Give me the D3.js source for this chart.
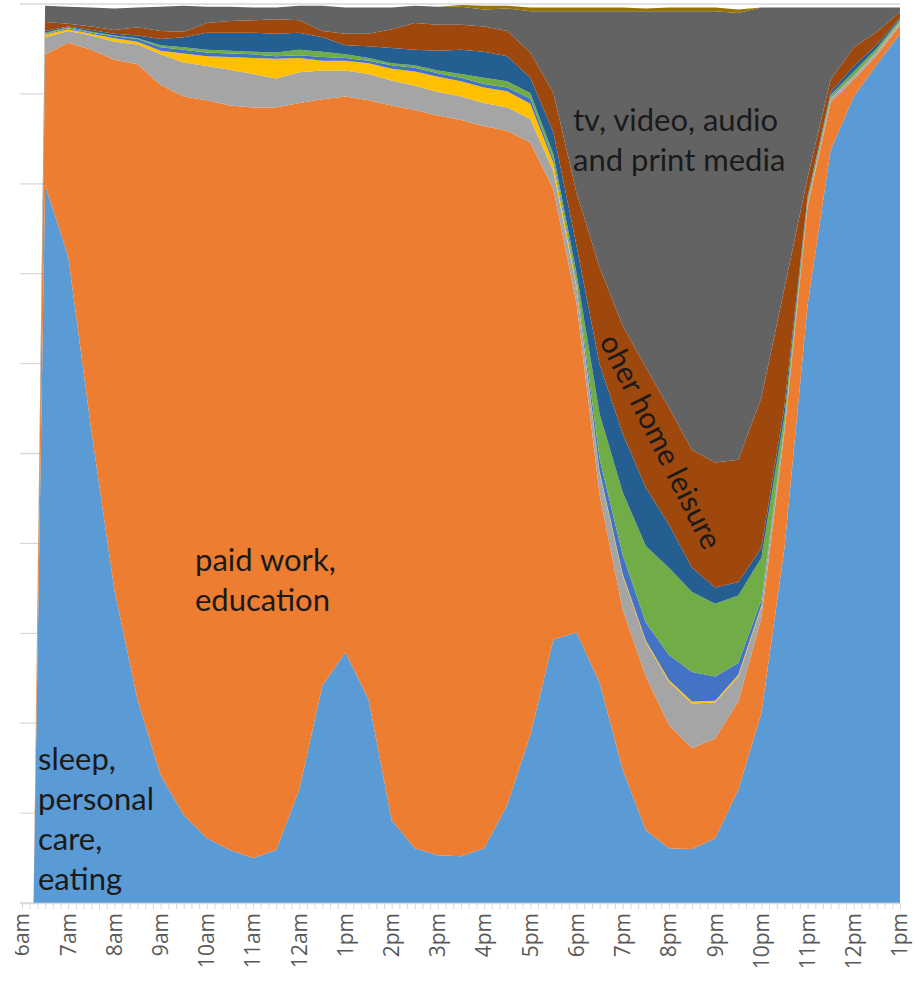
<!DOCTYPE html>
<html>
<head>
<meta charset="utf-8">
<script src="https://cdn.jsdelivr.net/npm/d3@7"></script>
<style>
  body { margin: 0; background: #fff; }
  svg { display: block; }
</style>
</head>
<body>
<svg id="chart"></svg>
<script>
// time of day in hours (25 = 1am next day), first point has nothing recorded yet
var hours = [6.25, 6.5, 7, 7.5, 8, 8.5, 9, 9.5, 10, 10.5, 11, 11.5, 12, 12.5, 13, 13.5, 14, 14.5, 15, 15.5,
             16, 16.5, 17, 17.5, 18, 18.5, 19, 19.5, 20, 20.5, 21, 21.5, 22, 22.5, 23, 23.5, 24, 24.5, 25];

// share of people (%) in each activity, stacked bottom to top
var sleepCare = [0, 79.9, 71.9, 52.6, 34.8, 22.6, 14.2, 9.8, 7.2, 5.9, 5.0, 5.9, 12.6, 24.2, 27.9, 22.6, 9.2, 6.1, 5.3, 5.2,
                 6.1, 10.9, 18.7, 29.3, 30.1, 24.5, 14.8, 8.1, 6.1, 6.0, 7.2, 12.6, 21.1, 39.5, 66.5, 83.8, 89.7, 93.3, 96.7];
var paidWork = [0, 14.5, 23.8, 42.3, 59.0, 70.7, 76.8, 79.9, 82.1, 82.8, 83.5, 82.6, 76.4, 65.2, 61.8, 66.7, 79.5, 82.1, 82.3, 81.9,
                80.3, 75.0, 65.9, 50.1, 36.6, 20.9, 17.8, 17.1, 13.7, 11.2, 11.1, 9.8, 10.6, 12.9, 11.0, 5.3, 1.9, 1.0, 0.9];
var greyBand = [0, 1.9, 1.3, 1.6, 2.0, 2.2, 3.4, 3.8, 3.8, 4.0, 3.7, 3.2, 3.4, 3.2, 2.9, 2.9, 2.8, 2.7, 2.6, 2.6,
                2.6, 2.6, 2.6, 2.0, 1.8, 2.4, 3.8, 3.8, 4.8, 5.0, 4.0, 2.8, 1.2, 0.4, 0.3, 0.3, 0.3, 0.3, 0.3];
var yellowBand = [0, 0.3, 0.2, 0.2, 0.4, 0.3, 0.4, 1.0, 1.1, 1.4, 1.8, 2.2, 1.6, 1.1, 1.1, 1.2, 1.3, 1.6, 1.7, 1.7,
                  1.7, 1.8, 1.7, 0.9, 0.3, 0.2, 0.2, 0.2, 0.2, 0.2, 0.2, 0.2, 0.2, 0.1, 0.1, 0.1, 0.1, 0.1, 0.1];
var blueBand = [0, 0.1, 0.1, 0.1, 0.2, 0.3, 0.4, 0.4, 0.4, 0.4, 0.4, 0.3, 0.3, 0.4, 0.3, 0.3, 0.4, 0.4, 0.4, 0.4,
                0.4, 0.4, 0.6, 0.4, 0.4, 1.4, 2.1, 2.0, 2.8, 3.3, 2.7, 1.3, 0.6, 0.2, 0.1, 0.1, 0.1, 0.1, 0.1];
var greenBand = [0, 0.1, 0.1, 0.1, 0.1, 0.1, 0.2, 0.3, 0.3, 0.3, 0.3, 0.4, 0.6, 0.6, 0.4, 0.3, 0.2, 0.3, 0.3, 0.4,
                 0.7, 0.7, 0.6, 0.6, 0.9, 5.0, 7.0, 8.5, 9.7, 8.9, 8.1, 7.5, 4.7, 1.1, 0.3, 0.3, 0.4, 0.3, 0.2];
var navyBand = [0, 0.2, 0.1, 0.2, 0.2, 0.3, 0.7, 1.1, 1.9, 2.0, 2.1, 2.1, 1.9, 1.6, 1.0, 1.3, 1.7, 1.7, 2.2, 2.7,
                2.9, 2.8, 1.7, 2.4, 3.0, 5.5, 6.5, 6.5, 4.8, 2.7, 1.8, 1.5, 1.1, 1.1, 0.3, 0.3, 0.6, 0.4, 0.2];
var homeLeisure = [0, 1.0, 0.3, 0.4, 0.4, 0.9, 0.9, 0.6, 1.1, 1.3, 1.4, 1.6, 1.4, 0.7, 1.3, 1.4, 2.1, 3.0, 2.9, 2.8,
                   2.8, 2.8, 2.8, 4.4, 5.9, 10.8, 12.0, 13.4, 13.0, 13.1, 13.9, 13.6, 16.7, 13.1, 2.1, 1.4, 2.1, 1.4, 0.6];
var media = [0, 1.8, 1.9, 2.1, 2.4, 2.2, 2.7, 2.9, 1.8, 1.6, 1.4, 1.3, 1.6, 2.8, 2.9, 2.9, 2.4, 1.9, 2.0, 2.0,
             1.9, 2.5, 4.6, 9.1, 20.2, 28.5, 35.0, 39.6, 44.1, 48.8, 50.2, 49.7, 43.4, 31.2, 18.9, 8.0, 4.4, 2.7, 0.5];
var otherBand = [0, 0, 0, 0, 0, 0, 0, 0, 0, 0, 0, 0, 0, 0, 0, 0, 0, 0, 0, 0.2,
                 0.4, 0.3, 0.4, 0.4, 0.4, 0.4, 0.4, 0.3, 0.4, 0.4, 0.4, 0.4, 0, 0, 0, 0, 0, 0, 0];

// hour labels as printed on the original axis
var hourTicks = [6, 7, 8, 9, 10, 11, 12, 13, 14, 15, 16, 17, 18, 19, 20, 21, 22, 23, 24, 25];
var hourLabels = ["6am", "7am", "8am", "9am", "10am", "11am", "12am", "1pm", "2pm", "3pm",
                  "4pm", "5pm", "6pm", "7pm", "8pm", "9pm", "10pm", "11pm", "12pm", "1pm"];

function activity_chart(target) {

    var keys = ["sleepCare", "paidWork", "greyBand", "yellowBand", "blueBand",
                "greenBand", "navyBand", "homeLeisure", "media", "otherBand"];
    var series = {sleepCare, paidWork, greyBand, yellowBand, blueBand,
                  greenBand, navyBand, homeLeisure, media, otherBand};
    var colors = ['#5B9BD5', '#ED7D31', '#A5A5A5', '#FFC000', '#4472C4',
                  '#70AD47', '#255E91', '#9E480E', '#636363', '#997300'];
    var colorScale = d3.scaleOrdinal(keys, colors);

    var rows = hours.map(function (h, i) {
        var r = {hour: h};
        keys.forEach(k => r[k] = series[k][i]);
        return r;
    });

    var width = 919;
    var height = 987;
    var svg = d3.select(target)
        .attr("width", width)
        .attr("height", height);

    var x = d3.scaleLinear().domain([6, 25]).range([22, 900]);
    var y = d3.scaleLinear().domain([0, 100]).range([903, 4]);

    // horizontal gridlines (only the stubs on the left stay visible)
    svg.append('g')
        .selectAll('line')
        .data(y.ticks(10))
        .join('line')
        .attr('x1', 20).attr('x2', 900)
        .attr('y1', d => y(d)).attr('y2', d => y(d))
        .attr('stroke', '#d9d9d9')
        .attr('stroke-width', 1.3);

    var stack = d3.stack().keys(keys);
    var area = d3.area()
        .x(d => x(d.data.hour))
        .y0(d => y(d[0]))
        .y1(d => y(d[1]));

    svg.append('g')
        .selectAll('path')
        .data(stack(rows))
        .join('path')
        .attr('fill', d => colorScale(d.key))
        .attr('d', area);

    // bottom axis with ten-minute ticks
    var minorTicks = d3.range(0, 19 * 6 + 1).map(i => 6 + i / 6);
    var axis = svg.append('g')
        .attr('transform', `translate(0,${y(0)})`)
        .call(d3.axisBottom(x).tickValues(minorTicks).tickSize(6).tickFormat(''));
    axis.select('.domain').attr('stroke', '#d9d9d9').attr('stroke-width', 1.3)
        .attr('d', `M20,0.5H${x(25)}`);
    axis.selectAll('.tick line').attr('stroke', '#d9d9d9');

    svg.append('clipPath').attr('id', 'labelClip')
        .append('rect').attr('x', 15).attr('y', 0).attr('width', width).attr('height', height);

    svg.append('g')
        .attr('clip-path', 'url(#labelClip)')
        .selectAll('text')
        .data(hourTicks)
        .join('text')
        .attr('transform', d => `translate(${x(d)},${y(0) + 10}) rotate(-90)`)
        .attr('text-anchor', 'end')
        .attr('dy', '0.35em')
        .style('font-family', '"Open Sans", sans-serif')
        .style('font-size', '21px')
        .style('fill', '#595959')
        .text((d, i) => hourLabels[i]);

    // annotations
    function note(lines, left, top) {
        svg.append('text')
            .style('font-family', 'Lato, sans-serif')
            .style('font-size', '31px')
            .style('fill', '#1a1a1a')
            .selectAll('tspan')
            .data(lines)
            .join('tspan')
            .attr('x', left)
            .attr('y', (d, i) => top + i * 40)
            .text(d => d);
    }
    note(["tv, video, audio", "and print media"], 573, 131);
    note(["paid work,", "education"], 195, 571);
    note(["sleep,", "personal", "care,", "eating"], 38, 770);

    svg.append('text')
        .attr('transform', 'translate(599,341) rotate(63.5)')
        .style('font-family', 'Lato, sans-serif')
        .style('font-size', '30px')
        .style('fill', '#1a1a1a')
        .text('oher home leisure');
}

activity_chart("#chart");
</script>
</body>
</html>
